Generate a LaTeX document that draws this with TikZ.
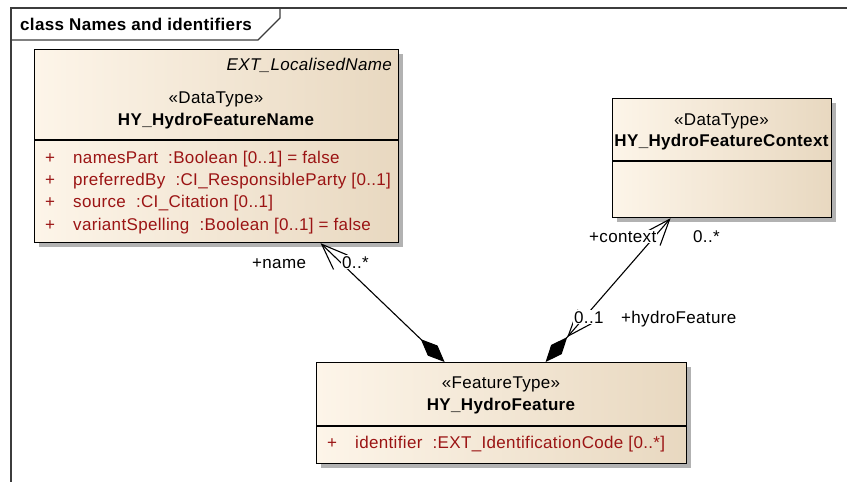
\documentclass[tikz,border=0pt]{standalone}
\usepackage{fontspec}
\setmainfont{Liberation Sans}[LetterSpace=2]
\usetikzlibrary{arrows.meta,shadows}
\definecolor{attrred}{RGB}{155,20,20}
\definecolor{boxlight}{RGB}{253,245,233}
\definecolor{boxdark}{RGB}{232,216,192}
\definecolor{framegray}{RGB}{60,60,60}
\newcommand{\umlfont}{\fontsize{17}{20}\selectfont}
\tikzset{
  txt/.style={inner sep=0pt, font=\umlfont},
  attr/.style={txt, anchor=base west, text=attrred},
  lbl/.style={txt, anchor=base west, fill=white, inner sep=1pt},
  classbox/.style={draw=black, line width=1.2pt, anchor=north west, inner sep=0pt,
    left color=boxlight, right color=boxdark,
    drop shadow={shadow xshift=4pt, shadow yshift=-4pt, fill=black!30, opacity=1}},
  assoc/.style={line width=1.1pt},
  navi/.tip={Straight Barb[length=26pt, width=20pt]},
  compo/.tip={Diamond[length=33pt, width=14pt, sep=0pt]}
}
\begin{document}
\begin{tikzpicture}[x=1pt, y=-1pt]
  \path[fill=white, use as bounding box] (0,0) rectangle (847,482);
  % frame and tab
  \draw[framegray, line width=1.3pt] (847,8) -- (11,8) -- (11,482);
  \draw[framegray, line width=1.3pt] (11,40) -- (258,40) -- (280,18) -- (280,8);
  \node[txt, anchor=base west, font=\umlfont\bfseries] (title) at (20,30) {class Names and identifiers};

  % HY_HydroFeatureName
  \node[classbox, minimum width=364pt, minimum height=193pt] (hfName) at (34,49) {};
  \draw[line width=1.2pt] (hfName.west |- 0,140) -- (hfName.east |- 0,140);
  \node[txt, anchor=base east, font=\umlfont\itshape] (hfNameTag) at (392,70) {EXT\_LocalisedName};
  \node[txt, anchor=base] (hfNameSter) at (216,103) {«DataType»};
  \node[txt, anchor=base, font=\umlfont\bfseries] (hfNameTitle) at (216,125) {HY\_HydroFeatureName};
  \foreach \i/\y/\a in {1/163/{namesPart\ \ :Boolean [0..1] = false},
                        2/185/{preferredBy\ \ :CI\_ResponsibleParty [0..1]},
                        3/207/{source\ \ :CI\_Citation [0..1]},
                        4/230/{variantSpelling\ \ :Boolean [0..1] = false}} {
    \node[attr] (hfNamePlus\i) at (45,\y) {+};
    \node[attr] (hfNameAttr\i) at (73,\y) {\a};
  }

  % HY_HydroFeatureContext
  \node[classbox, minimum width=219pt, minimum height=119pt] (hfContext) at (612,98) {};
  \draw[line width=1.2pt] (hfContext.west |- 0,161) -- (hfContext.east |- 0,161);
  \node[txt, anchor=base] (hfContextSter) at (721.5,125) {«DataType»};
  \node[txt, anchor=base, font=\umlfont\bfseries] (hfContextTitle) at (721.5,146) {HY\_HydroFeatureContext};

  % HY_HydroFeature
  \node[classbox, minimum width=370pt, minimum height=101pt] (hydroFeature) at (316,362) {};
  \draw[line width=1.2pt] (hydroFeature.west |- 0,426) -- (hydroFeature.east |- 0,426);
  \node[txt, anchor=base] (hydroFeatureSter) at (501,388) {«FeatureType»};
  \node[txt, anchor=base, font=\umlfont\bfseries] (hydroFeatureTitle) at (501,410) {HY\_HydroFeature};
  \node[attr] (hydroFeaturePlus) at (327,448) {+};
  \node[attr] (hydroFeatureAttr) at (355,448) {identifier\ \ :EXT\_IdentificationCode [0..*]};

  % associations
  \draw[assoc, {compo[]}-{navi[]}] ([xshift=-57pt]hydroFeature.north) -- ([xshift=104pt]hfName.south);
  \draw[assoc, {compo[] navi[]}-{navi[]}] ([xshift=44pt]hydroFeature.north) -- ([xshift=-51.5pt]hfContext.south);

  % role and multiplicity labels
  \node[lbl] (nameRole) at (251,268) {+name};
  \node[lbl] (nameMult) at (341,268) {0..*};
  \node[lbl] (contextRole) at (588,242) {+context};
  \node[lbl] (contextMult) at (692,242) {0..*};
  \node[lbl] (featureMult) at (573,323) {0..1};
  \node[lbl] (featureRole) at (620,323) {+hydroFeature};
\end{tikzpicture}
\end{document}
